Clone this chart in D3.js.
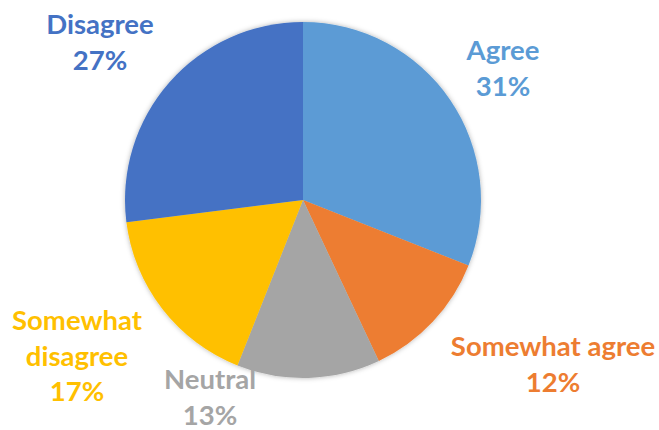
<!DOCTYPE html>
<meta charset="utf-8">
<head>
    <script type="text/javascript" src="https://cdn.jsdelivr.net/npm/d3@7"></script>
    <style>
        body { margin: 0; background: #fff; }
        .lbl { font-family: Lato, "Open Sans", sans-serif; font-weight: 700; font-size: 27.5px; }
    </style>
    <title>Pie</title>
</head>
<body>
    <script>
        // chart data
        var categories = ["Agree", "Somewhat agree", "Neutral", "Somewhat disagree", "Disagree"];
        var values = [31, 12, 13, 17, 27];
        var colors = ["#5B9BD5", "#ED7D31", "#A5A5A5", "#FFC000", "#4472C4"];
        // label lines per slice (wrapped as in the picture)
        var labelLines = [["Agree"], ["Somewhat agree"], ["Neutral"], ["Somewhat", "disagree"], ["Disagree"]];

        var width = 659, height = 430;
        var cx = 303, cy = 200, radius = 178;

        var svg = d3.select("body").append("svg")
            .attr("width", width)
            .attr("height", height);

        // soft shadow round the pie
        var defs = svg.append("defs");
        var f = defs.append("filter").attr("id", "shadow")
            .attr("x", "-10%").attr("y", "-10%").attr("width", "120%").attr("height", "120%");
        f.append("feDropShadow")
            .attr("dx", 0).attr("dy", 0)
            .attr("stdDeviation", 2.5)
            .attr("flood-color", "#000")
            .attr("flood-opacity", 0.3);

        var data = categories.map(function(c, i) { return {cat: c, value: values[i], color: colors[i], lines: labelLines[i]}; });

        var pie = d3.pie().sort(null).value(function(d) { return d.value; });
        var arc = d3.arc().innerRadius(0).outerRadius(radius);

        var g = svg.append("g").attr("transform", "translate(" + cx + "," + cy + ")");
        g.append("g").attr("filter", "url(#shadow)")
            .selectAll("path")
            .data(pie(data))
            .enter()
            .append("path")
            .attr("d", arc)
            .style("fill", function(d) { return d.data.color; });

        // label anchor (centre x, first baseline y) relative to pie centre, placed like the source
        var labelPos = {
            "Agree": [200, -140],
            "Somewhat agree": [250, 156],
            "Neutral": [-93, 189],
            "Somewhat disagree": [-226, 130],
            "Disagree": [-203, -166]
        };
        var lineH = 35.5;

        var labels = g.append("g").selectAll("text")
            .data(data)
            .enter()
            .append("text")
            .attr("class", "lbl")
            .attr("text-anchor", "middle")
            .style("fill", function(d) { return d.color; })
            .attr("transform", function(d) { var p = labelPos[d.cat]; return "translate(" + p[0] + "," + p[1] + ")"; });

        labels.each(function(d) {
            var t = d3.select(this);
            var lines = d.lines.concat([d.value + "%"]);
            lines.forEach(function(l, i) {
                t.append("tspan").attr("x", 0).attr("y", i * lineH).text(l);
            });
        });
    </script>
</body>
</html>
